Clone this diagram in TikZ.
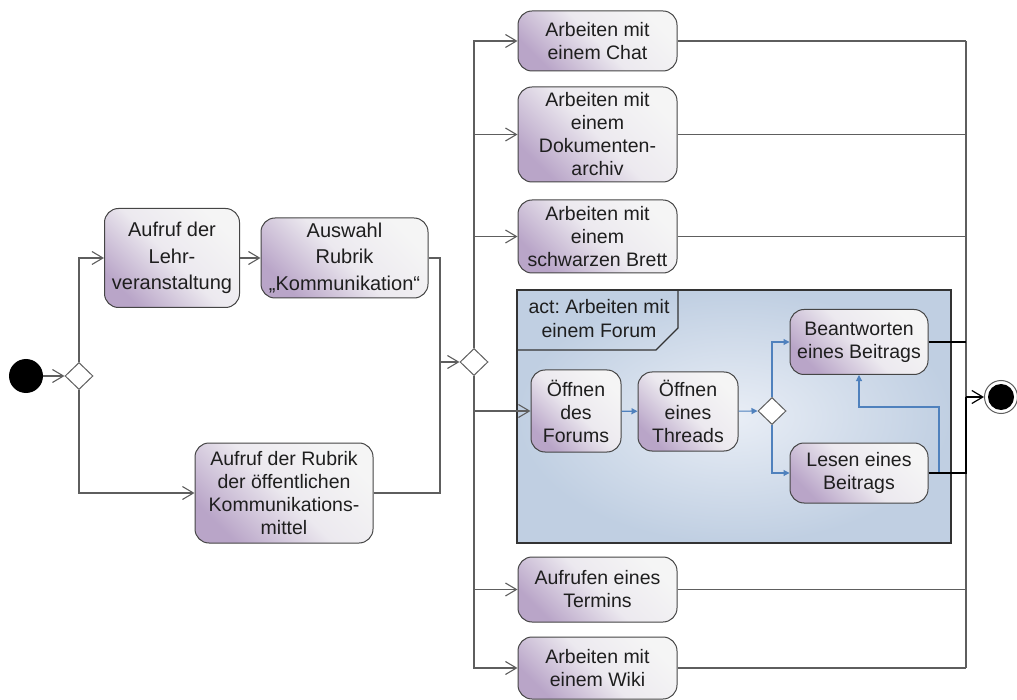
\documentclass[tikz,border=0pt]{standalone}
\usepackage{fontspec}
\setmainfont{Liberation Sans}
\frenchspacing
\usetikzlibrary{arrows.meta,shapes.geometric,calc}
\definecolor{linegray}{HTML}{5E5E5E}
\definecolor{boxedge}{HTML}{454545}
\definecolor{boxtop}{HTML}{F5F5F5}
\definecolor{boxmid}{HTML}{ECE9EF}
\definecolor{boxbot}{HTML}{B9A5C8}
\definecolor{flowblue}{HTML}{4F81BD}
\definecolor{frameinner}{HTML}{E9EEF6}
\definecolor{frameouter}{HTML}{C0CFE2}
\definecolor{txt}{HTML}{1E1E1E}
\begin{document}
\begin{tikzpicture}[x=1pt,y=-1pt,
  actbox/.style={draw=boxedge, line width=1pt, rounded corners=14pt,
    top color=boxtop, bottom color=boxbot, middle color=boxmid, shading angle=-45,
    align=center, inner sep=0pt, text=txt, font=\fontsize{19.5}{23}\selectfont},
  widebox/.style={actbox, font=\fontsize{20}{26.5}\selectfont},
  rightbox/.style={actbox, minimum width=159pt},
  decision/.style={diamond, draw=linegray, fill=white, line width=1pt,
    minimum width=28pt, minimum height=27pt, inner sep=0pt},
  startnode/.style={circle, fill=black, minimum size=34pt, inner sep=0pt},
  line/.style={draw=linegray, line width=1.1pt},
  flow/.style={line, -{Straight Barb[length=11pt,width=13pt,line width=1.1pt]}},
  bflow/.style={draw=flowblue, line width=1.1pt, -{Triangle[length=6pt,width=6pt]}},
  endline/.style={draw=black, line width=1.3pt},
  frameline/.style={draw=black!80, line width=1.2pt}
]
\useasboundingbox (0,0) rectangle (1017,700);

% frame of the sub-activity
\node[frameline, inner color=frameinner, outer color=frameouter,
  minimum width=434pt, minimum height=253pt, inner sep=0pt] (frame) at (734,416.5) {};
\draw[frameline] (517,350) -- (656,350) -- (678,328) -- (678,290);
\node[align=center, text=txt, font=\fontsize{19.5}{24}\selectfont] (acttitle) at (599,319)
  {act: Arbeiten mit\\einem Forum};

% nodes
\node[startnode] (start) at (26,376) {};
\node[decision] (d1) at (79,376) {};
\node[widebox, minimum width=135pt, minimum height=99pt] (lehr) at (172,258)
  {Aufruf der\\Lehr-\\veranstaltung};
\node[widebox, minimum width=167pt, minimum height=80pt] (ausw) at (344.5,258)
  {Auswahl\\Rubrik\\„Kommunikation“};
\node[actbox, minimum width=178pt, minimum height=100pt] (rubrik) at (284,493)
  {Aufruf der Rubrik\\der öffentlichen\\Kommunikations-\\mittel};
\coordinate (j) at (440,362);
\node[decision] (d2) at (474,362) {};

\node[rightbox, minimum height=60pt] (chat) at (597.5,41) {Arbeiten mit\\einem Chat};
\node[rightbox, minimum height=95pt] (doku) at (597.5,134.5) {Arbeiten mit\\einem\\Dokumenten-\\archiv};
\node[rightbox, minimum height=73pt] (brett) at (597.5,236.5) {Arbeiten mit\\einem\\schwarzen Brett};
\node[rightbox, minimum height=65pt] (termin) at (597.5,589.5) {Aufrufen eines\\Termins};
\node[rightbox, minimum height=62pt] (wiki) at (597.5,668) {Arbeiten mit\\einem Wiki};

\node[actbox, minimum width=90pt, minimum height=82pt] (forum) at (576,411) {Öffnen\\des\\Forums};
\node[actbox, minimum width=100pt, minimum height=79pt] (thread) at (688,411.5) {Öffnen\\eines\\Threads};
\node[decision] (d3) at (772,411) {};
\node[actbox, minimum width=138pt, minimum height=65pt] (beant) at (859,342) {Beantworten\\eines Beitrags};
\node[actbox, minimum width=138pt, minimum height=60pt] (lesen) at (859,473) {Lesen eines\\Beitrags};

\node[circle, draw=linegray, fill=white, line width=1pt, minimum size=33pt, inner sep=0pt] (end) at (1001,397) {};
\node[circle, fill=black, minimum size=26pt, inner sep=0pt] (endcore) at (end) {};

% left connectors
\draw[flow] (start) -- (d1.west);
\draw[flow] (d1.north) |- (lehr.west);
\draw[flow] (d1.south) |- (rubrik.west);
\draw[flow] (lehr) -- (ausw);
\draw[line] (ausw.east) -| (j);
\draw[line] (rubrik.east) -| (j);
\draw[flow] (j) -- (d2.west);

% branches
\draw[flow] (d2.north) |- (chat.west);
\draw[flow] (d2.north) |- (doku.west);
\draw[flow] (d2.north) |- (brett.west);
\draw[flow] (d2.south) |- (forum.west);
\draw[flow] (d2.south) |- (termin.west);
\draw[flow] (d2.south) |- (wiki.west);

% right join line
\coordinate (rx) at (966,0);
\coordinate (ej) at (966,397);
\draw[line] (chat.east -| rx) -- (wiki.east -| rx);
\draw[line] (chat.east) -- (chat.east -| rx);
\draw[line] (doku.east) -- (doku.east -| rx);
\draw[line] (brett.east) -- (brett.east -| rx);
\draw[line] (termin.east) -- (termin.east -| rx);
\draw[line] (wiki.east) -- (wiki.east -| rx);

% inner flow
\draw[bflow] (forum) -- (thread);
\draw[bflow] (thread) -- (d3.west);
\draw[bflow] (d3.north) |- (beant.west);
\draw[bflow] (d3.south) |- (lesen.west);
\coordinate (lb) at (939,407);
\draw[bflow] (lesen.east) -| (lb) -| (beant.south);

% to final node
\draw[endline] (beant.east) -- (beant.east -| rx);
\draw[endline] (lesen.east) -| (ej);
\draw[endline, -{Straight Barb[length=11pt,width=13pt,line width=1.2pt]}] (ej) -- (end.west);
\end{tikzpicture}
\end{document}
